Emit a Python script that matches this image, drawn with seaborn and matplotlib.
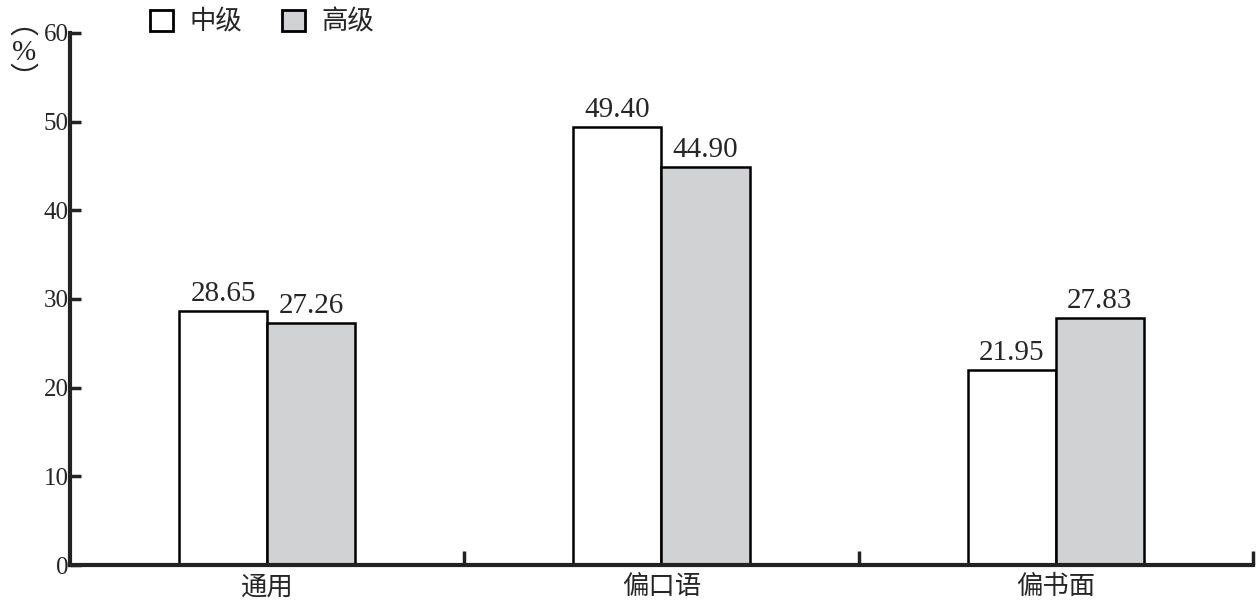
import pandas as pd
import seaborn as sns
import matplotlib.pyplot as plt
from matplotlib.patches import Patch

# data
categories = ["通用", "偏口语", "偏书面"]
levels = ["中级", "高级"]
mid_values = [28.65, 49.40, 21.95]
high_values = [27.26, 44.90, 27.83]

df = pd.DataFrame({
    "category": categories * 2,
    "level": [levels[0]] * 3 + [levels[1]] * 3,
    "value": mid_values + high_values,
})

sns.set_style("white")
plt.rcParams['font.family'] = ['Liberation Serif', 'Noto Sans CJK SC', 'DejaVu Sans']

fig = plt.figure(figsize=(12.59, 6.05), dpi=100)
ax = fig.add_axes([0.0556, 0.0661, 0.9396, 0.8794])

colors = ["#ffffff", "#d1d2d4"]
sns.barplot(df, x="category", y="value", hue="level", palette=colors,
            width=0.447, edgecolor="black", linewidth=1.8, ax=ax, legend=False)

for cont in ax.containers:
    ax.bar_label(cont, fmt="%.2f", padding=3, fontsize=21, family="Liberation Serif")

ax.set_xlim(-0.5, 2.5)
ax.set_ylim(0, 60)
ax.set_yticks(range(0, 61, 10))
ax.set_xlabel("")
ax.set_ylabel("")
ax.tick_params(axis="y", left=True, direction="in", length=8, width=2.5,
               labelsize=18, pad=1, color="#222222")
ax.tick_params(axis="x", which="major", length=0, pad=6)
for lab in ax.get_xticklabels():
    lab.set_family(['Noto Sans CJK SC'])
    lab.set_fontsize(19)
ax.set_xticks([0.5, 1.5, 2.5], minor=True)
ax.tick_params(axis="x", which="minor", bottom=True, direction="in", length=10,
               width=2.5, color="#222222")

for side in ["top", "right"]:
    ax.spines[side].set_visible(False)
for side in ["left", "bottom"]:
    ax.spines[side].set_linewidth(3)
    ax.spines[side].set_color("#222222")

# vertical unit label
fig.text(0.019, 0.912, "︵\n%\n︶", ha="center", va="center", fontsize=21,
         family=['Liberation Serif', 'Noto Sans CJK SC'], linespacing=1.1)

handles = [Patch(facecolor=c, edgecolor="black", linewidth=2) for c in colors]
fig.legend(handles, levels, loc="upper left", bbox_to_anchor=(0.1, 1.025), ncol=2,
           frameon=False, handlelength=0.9, handleheight=0.9, handletextpad=0.6,
           columnspacing=1.5, prop={"family": "Noto Sans CJK SC", "size": 19})

fig.savefig("out.png", dpi=100)
